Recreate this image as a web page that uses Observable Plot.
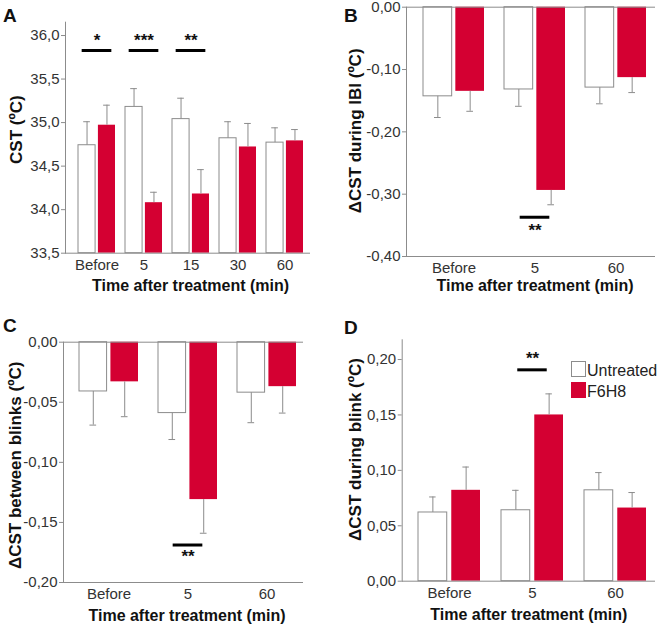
<!DOCTYPE html>
<html><head><meta charset="utf-8">
<script src="https://cdn.jsdelivr.net/npm/d3@7"></script>
<script src="https://cdn.jsdelivr.net/npm/@observablehq/plot@0.6"></script>
<style>
body{margin:0;background:#fff;}
#fig{position:relative;width:661px;height:632px;background:#fff;font-family:"Liberation Sans",Arial,sans-serif;overflow:hidden;}
.panel{position:absolute;}
.letter{position:absolute;font-weight:bold;font-size:19px;line-height:19px;color:#111;}
.lgbox{position:absolute;width:13px;height:14px;}
.lgtxt{position:absolute;font-size:16px;line-height:16px;color:#222;}
</style></head><body><div id="fig"></div>
<script>
// ---- data ----
const series = ["Untreated", "F6H8"];

const catsA = ["Before", "5", "15", "30", "60"];
const untreatedA = [34.74, 35.18, 35.04, 34.82, 34.77];
const untreatedSemA = [0.27, 0.21, 0.24, 0.19, 0.17];
const f6h8A = [34.97, 34.08, 34.18, 34.72, 34.79];
const f6h8SemA = [0.23, 0.12, 0.28, 0.27, 0.13];
const ticksA = [33.5, 34.0, 34.5, 35.0, 35.5, 36.0];
const sigA = [{cat: "Before", label: "*"}, {cat: "5", label: "***"}, {cat: "15", label: "**"}];

const catsB = ["Before", "5", "60"];
const untreatedB = [-0.143, -0.132, -0.129];
const untreatedSemB = [0.034, 0.027, 0.026];
const f6h8B = [-0.135, -0.294, -0.113];
const f6h8SemB = [0.032, 0.023, 0.024];
const ticksB = [-0.40, -0.30, -0.20, -0.10, 0.00];
const sigB = [{cat: "5", label: "**"}];

const catsC = ["Before", "5", "60"];
const untreatedC = [-0.041, -0.059, -0.042];
const untreatedSemC = [0.028, 0.022, 0.025];
const f6h8C = [-0.033, -0.131, -0.037];
const f6h8SemC = [0.029, 0.028, 0.022];
const ticksC = [-0.20, -0.15, -0.10, -0.05, 0.00];
const sigC = [{cat: "5", label: "**"}];

const catsD = ["Before", "5", "60"];
const untreatedD = [0.062, 0.064, 0.082];
const untreatedSemD = [0.014, 0.018, 0.016];
const f6h8D = [0.082, 0.150, 0.066];
const f6h8SemD = [0.021, 0.019, 0.014];
const ticksD = [0.00, 0.05, 0.10, 0.15, 0.20];
const sigD = [{cat: "5", label: "**"}];

const xTitle = "Time after treatment (min)";

// ---- drawing ----
const RED = "#d40032", GRAY = "#8c8c8c";
const fig = document.getElementById("fig");
const comma = (dec) => (d) => d.toFixed(dec).replace(".", ",");

function panel(o) {
  const rows = [];
  o.cats.forEach((c, i) => {
    rows.push({cat: c, series: series[0], v: o.U[i], e: o.U[i] + (o.U[i] < o.base ? -1 : 1) * o.Us[i]});
    rows.push({cat: c, series: series[1], v: o.F[i], e: o.F[i] + (o.F[i] < o.base ? -1 : 1) * o.Fs[i]});
  });
  const rowsU = rows.filter(d => d.series === series[0]);
  const rowsF = rows.filter(d => d.series === series[1]);
  const range = [o.m[3], o.w - o.m[1]];
  const bw = d3.scaleBand().domain(o.cats).range(range)
    .paddingInner(o.pi).paddingOuter(o.po).align(o.al).bandwidth();
  const half = (bw + o.gap) / 2;
  const off = (bw + o.gap) / 4;
  const cap = 7, sigW = 30;
  const sigRows = o.sig.map(s => ({...s, ly: o.sigLine, sy: o.sigStar}));
  const marks = [
    Plot.barY(rowsU, {x: "cat", y1: () => o.base, y2: "v", fill: "white", stroke: GRAY, strokeWidth: 1, insetRight: half}),
    Plot.barY(rowsF, {x: "cat", y1: () => o.base, y2: "v", fill: RED, insetLeft: half}),
    Plot.ruleX(rowsU, {x: "cat", y1: "v", y2: "e", dx: -off, stroke: GRAY}),
    Plot.ruleX(rowsF, {x: "cat", y1: "v", y2: "e", dx: off, stroke: GRAY}),
    Plot.tickY(rowsU, {x: "cat", y: "e", dx: -off, insetLeft: (bw - cap) / 2, insetRight: (bw - cap) / 2, stroke: GRAY}),
    Plot.tickY(rowsF, {x: "cat", y: "e", dx: off, insetLeft: (bw - cap) / 2, insetRight: (bw - cap) / 2, stroke: GRAY}),
    Plot.frame({anchor: "left", stroke: GRAY}),
    Plot.ruleY([o.domain[0]], {stroke: GRAY}),
    o.zeroLine ? Plot.ruleY([0], {stroke: GRAY}) : null,
    Plot.tickY(sigRows, {x: "cat", y: "ly", stroke: "#000", strokeWidth: 3, insetLeft: (bw - sigW) / 2, insetRight: (bw - sigW) / 2}),
    Plot.text(sigRows, {x: "cat", y: "sy", text: "label", fontWeight: "bold", fontSize: 17, fill: "#111", dy: 3}),
    Plot.axisY({ticks: o.ticks, tickFormat: comma(o.dec), tickSize: 4, tickPadding: 2, stroke: GRAY, fill: "#333", fontSize: 15, label: null}),
    Plot.axisX({tickSize: 0, tickPadding: 6, fill: "#333", fontSize: 15, label: null}),
    Plot.text([xTitle], {frameAnchor: "bottom", lineAnchor: "middle", textAnchor: "middle", text: d => d, dy: o.xdy, dx: o.xdx, fontWeight: "bold", fontSize: 16, fill: "#111"}),
    Plot.text([o.yTitle], {frameAnchor: "left", lineAnchor: "middle", textAnchor: "middle", text: d => d, rotate: -90, dx: o.ydx, dy: o.ydy, fontWeight: "bold", fontSize: 17, fill: "#111"})
  ].filter(Boolean);
  const chart = Plot.plot({
    width: o.w, height: o.h,
    marginTop: o.m[0], marginRight: o.m[1], marginBottom: o.m[2], marginLeft: o.m[3],
    x: {type: "band", domain: o.cats, paddingInner: o.pi, paddingOuter: o.po, align: o.al, label: null},
    y: {domain: o.domain, label: null},
    style: {fontFamily: "'Liberation Sans', Arial, sans-serif", fontSize: "15px", background: "transparent", color: "#333", overflow: "visible"},
    marks
  });
  const div = document.createElement("div");
  div.className = "panel";
  div.style.left = o.left + "px";
  div.style.top = o.top + "px";
  div.appendChild(chart);
  fig.appendChild(div);
  const L = document.createElement("div");
  L.className = "letter";
  L.textContent = o.letter;
  L.style.left = o.lx + "px";
  L.style.top = o.ly + "px";
  fig.appendChild(L);
}

panel({letter: "A", lx: 3, ly: 6, left: 0, top: 0, w: 330, h: 310, m: [21.7, 20, 57.3, 65],
  cats: catsA, U: untreatedA, Us: untreatedSemA, F: f6h8A, Fs: f6h8SemA, base: 33.5,
  domain: [33.5, 36.153], ticks: ticksA, dec: 1, zeroLine: false,
  pi: 0.206, po: 0.209, al: 0.645, gap: 2.5,
  sig: sigA, sigLine: 35.828, sigStar: 35.98,
  yTitle: "CST (ºC)", ydx: -49, ydy: -8, xdx: 2.5, xdy: 33});

panel({letter: "B", lx: 344, ly: 6, left: 330, top: 0, w: 331, h: 310, m: [6.7, 6, 54, 76],
  cats: catsB, U: untreatedB, Us: untreatedSemB, F: f6h8B, Fs: f6h8SemB, base: 0,
  domain: [-0.40, 0], ticks: ticksB, dec: 2, zeroLine: true,
  pi: 0.25, po: 0.147, al: 0.66, gap: 3.3,
  sig: sigB, sigLine: -0.337, sigStar: -0.3534,
  yTitle: "ΔCST during IBI (ºC)", ydx: -51, ydy: -1, xdx: 4, xdy: 29});

panel({letter: "C", lx: 3, ly: 316, left: 0, top: 310, w: 330, h: 322, m: [31.7, 27, 50, 63],
  cats: catsC, U: untreatedC, Us: untreatedSemC, F: f6h8C, Fs: f6h8SemC, base: 0,
  domain: [-0.20, 0], ticks: ticksC, dec: 2, zeroLine: true,
  pi: 0.254, po: 0.136, al: 0.68, gap: 3.5,
  sig: sigC, sigLine: -0.1688, sigStar: -0.176,
  yTitle: "ΔCST between blinks (ºC)", ydx: -48, ydy: 3, xdx: 3.5, xdy: 33});

panel({letter: "D", lx: 344, ly: 318, left: 330, top: 310, w: 331, h: 322, m: [29.3, 6, 51.3, 71.7],
  cats: catsD, U: untreatedD, Us: untreatedSemD, F: f6h8D, Fs: f6h8SemD, base: 0,
  domain: [0, 0.2178], ticks: ticksD, dec: 2, zeroLine: false,
  pi: 0.25, po: 0.144, al: 0.65, gap: 4,
  sig: sigD, sigLine: 0.1907, sigStar: 0.2036,
  yTitle: "ΔCST during blink (ºC)", ydx: -47, ydy: -11, xdx: 0, xdy: 34});

// legend (panel D)
const lg = [
  {label: series[0], fill: "#fff", top: 361},
  {label: series[1], fill: RED, top: 381.5}
];
lg.forEach(d => {
  const b = document.createElement("div");
  b.className = "lgbox";
  b.style.left = "571px"; b.style.top = d.top + "px";
  b.style.background = d.fill;
  b.style.border = d.fill === "#fff" ? "1px solid " + GRAY : "1px solid " + RED;
  fig.appendChild(b);
  const t = document.createElement("div");
  t.className = "lgtxt";
  t.textContent = d.label;
  t.style.left = "587px"; t.style.top = (d.top + 2) + "px";
  fig.appendChild(t);
});
</script></body></html>
